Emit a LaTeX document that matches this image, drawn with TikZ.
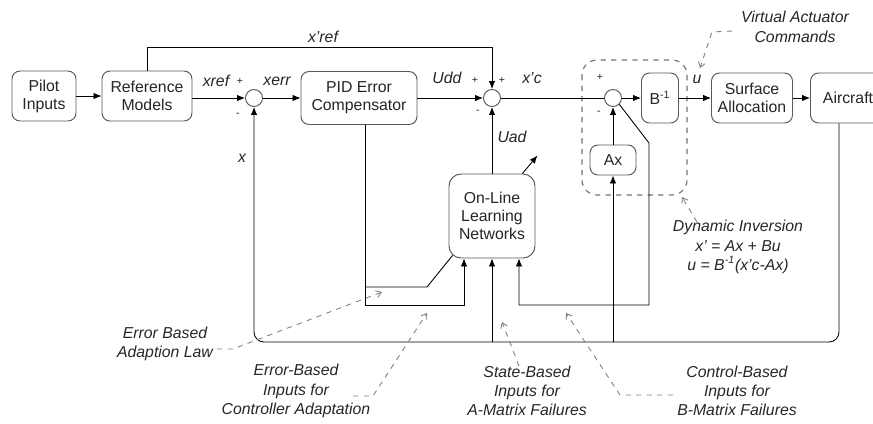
\documentclass[tikz,border=0pt]{standalone}
\usepackage{fontspec}
\setmainfont{Liberation Sans}
\usetikzlibrary{arrows.meta}

\begin{document}
\begin{tikzpicture}[x=0.02cm, y=-0.02cm, font=\fontsize{9}{10.3}\selectfont,
  blk/.style={draw=black!65, fill=white, rounded corners=1.6mm, align=center, inner sep=1pt, line width=0.55pt, text=black!85},
  sumnode/.style={draw=black!65, circle, minimum size=0.34cm, inner sep=0pt, line width=0.55pt},
  lbl/.style={font=\fontsize{9}{10.3}\selectfont\itshape, inner sep=1pt, text=black!85},
  sgn/.style={font=\fontsize{6}{7}\selectfont, inner sep=0pt, text=black!85},
  note/.style={font=\fontsize{9}{11}\selectfont\itshape, align=center, text=black!85},
  arr/.style={-{Latex[length=\l, width=\w]}, line width=0.5pt},
  ln/.style={line width=0.5pt},
  hint/.style={dashed, draw=black!50, -{Straight Barb[length=1mm, width=1.4mm]}, line width=0.5pt},
  dibox/.style={dashed, draw=black!55, rounded corners=3mm, line width=0.65pt}]
\def\l{1.6mm}
\def\w{1.3mm}
\useasboundingbox (0,0) rectangle (873,423);
\clip (0,0) rectangle (873,423);
% blocks of the main loop
\node[blk, minimum width=1.28cm, minimum height=1cm] (pilot) at (44,96) {Pilot\\Inputs};
\node[blk, minimum width=1.8cm, minimum height=1cm] (refm) at (147,96) {Reference\\Models};
\node[sumnode] (s1) at (254,98) {};
\node[blk, minimum width=2.32cm, minimum height=1.06cm] (pid) at (359,98) {PID Error\\Compensator};
\node[sumnode] (s2) at (492,98) {};
\node[sumnode] (s3) at (613,98) {};
\node[blk, minimum width=0.74cm, minimum height=1cm] (binv) at (660,98) {B\textsuperscript{-1}};
\node[blk, minimum width=1.62cm, minimum height=1cm] (alloc) at (752,98) {Surface\\Allocation};
\node[blk, minimum width=1.5cm, minimum height=1cm] (plane) at (848,98) {Aircraft};
\node[blk, minimum width=0.92cm, minimum height=0.6cm] (ax) at (613,160) {Ax};
\node[blk, minimum width=1.72cm, minimum height=1.68cm, rounded corners=2.4mm] (oln) at (492,216) {On-Line\\Learning\\Networks};
\draw[dibox] (582,60) rectangle (687,195);
% corners of the lines
\coordinate (top) at (492,47);
\coordinate (fbR) at (839,342);
\coordinate (fbL) at (254,342);
\coordinate (tapA) at (492,342);
\coordinate (tapX) at (613,342);
\coordinate (bk) at (649,143);
\coordinate (cb) at (519,305);
\coordinate (eb) at (464,305);
\coordinate (al) at (427,287);
% signal lines
\draw[arr] (pilot) -- (refm);
\draw[arr] (refm.east |- s1) -- (s1);
\draw[arr] (s1) -- (pid);
\draw[arr] (pid) -- (s2);
\draw[ln] (s2) -- (s3);
\draw[arr] (s3) -- (binv);
\draw[arr] (binv) -- (alloc);
\draw[arr] (alloc) -- (plane);
\draw[arr] (refm.north) |- (top) -- (s2);
\draw[arr, rounded corners=2mm] (plane.south -| fbR) -- (fbR) -- (fbL) -- (s1);
\draw[arr] (tapA) -- (oln);
\draw[arr] (tapX) -- (ax);
\draw[arr] (ax) -- (s3);
\draw[arr] (oln) -- (s2);
\draw[arr] ([xshift=-0.26cm]oln.north east) -- ++(15,-18);
\draw[arr] (s3.south east) -- (bk) |- (cb) -- (cb |- oln.south);
\draw[arr] ([xshift=0.12cm]pid.south) |- (eb) -- (eb |- oln.south);
\draw[ln] ([xshift=0.12cm]pid.south |- al) -- (al) -- ([shift={(0.08cm,0.06cm)}]oln.south west);
% signal names
\node[lbl] (lxref) at (216,81) {xref};
\node[sgn] (lp1) at (240,81) {+};
\node[lbl] (lxerr) at (277,81) {xerr};
\node[sgn] (lm1) at (238,115) {-};
\node[lbl] (lxr) at (323,37) {x'ref};
\node[lbl] (ludd) at (447,78) {Udd};
\node[sgn] (lp2) at (475,80) {+};
\node[sgn] (lp3) at (502,80) {+};
\node[lbl] (lxc) at (532,78) {x'c};
\node[sgn] (lm2) at (478,112) {-};
\node[lbl] (luad) at (512,137) {Uad};
\node[sgn] (lp4) at (600,77) {+};
\node[sgn] (lm3) at (599,113) {-};
\node[lbl] (lu) at (697,79) {u};
\node[lbl] (lx) at (242,158) {x};
% notes
\node[note] (vac) at (795,27) {Virtual Actuator\\Commands};
\node[note] (dyn) at (738,247) {Dynamic Inversion\\x' = Ax + Bu\\u = B\textsuperscript{-1}(x'c-Ax)};
\node[note] (law) at (165,344) {Error Based\\Adaption Law};
\node[note] (errin) at (296,391) {Error-Based\\Inputs for\\Controller Adaptation};
\node[note] (statein) at (527,391) {State-Based\\Inputs for\\A-Matrix Failures};
\node[note] (ctrlin) at (737,391) {Control-Based\\Inputs for\\B-Matrix Failures};
\coordinate (vacA) at (732,31);
\draw[hint] (vacA) -- (712,32) -- (700,68);
\draw[hint] (697,222) -- (682,197);
\draw[hint] (217,349) -- (233,349) -- (382,292);
\draw[hint] (353,396) -- (373,396) -- (427,313);
\draw[hint] (519,366) -- (502,322);
\draw[hint] (673,395) -- (620,395) -- (566,313);
\end{tikzpicture}
\end{document}
